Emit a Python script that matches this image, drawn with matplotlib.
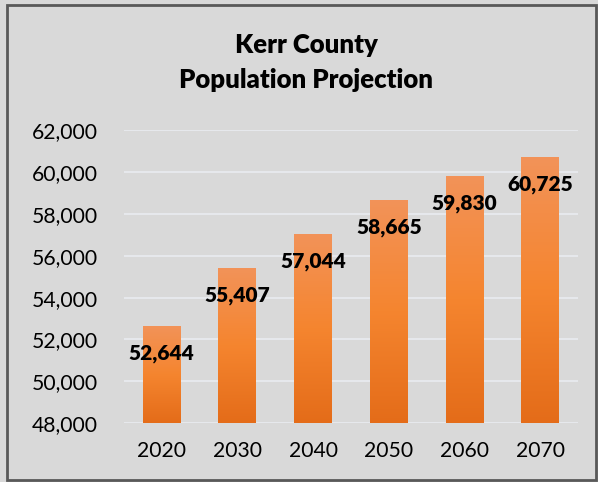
import numpy as np
import matplotlib.pyplot as plt
from matplotlib.colors import LinearSegmentedColormap
from matplotlib.patches import Rectangle

years = ["2020", "2030", "2040", "2050", "2060", "2070"]
population = [52644, 55407, 57044, 58665, 59830, 60725]
labels = ["52,644", "55,407", "57,044", "58,665", "59,830", "60,725"]
yticks = [48000, 50000, 52000, 54000, 56000, 58000, 60000, 62000]

plt.rcParams['font.family'] = ['Lato', 'DejaVu Sans']

fig = plt.figure(figsize=(5.98, 4.82), dpi=100, facecolor='#d9d9d9')
fig.patches.append(Rectangle((0.012, 0.004), 0.985, 0.985, transform=fig.transFigure,
                             fill=False, edgecolor='#595959', linewidth=2))
ax = fig.add_axes([0.207, 0.122, 0.760, 0.608])
ax.set_facecolor('#d9d9d9')

ax.set_ylim(48000, 62000)
ax.set_yticks(yticks)
ax.set_yticklabels([f"{v:,}" for v in yticks])
ax.grid(axis='y', color='#e6e8ec', linewidth=1.5)
ax.set_axisbelow(True)
for s in ax.spines.values():
    s.set_visible(False)
ax.tick_params(axis='both', length=0, labelsize=15.2)
ax.tick_params(axis='y', pad=19)
ax.tick_params(axis='x', pad=13)

cmap = LinearSegmentedColormap.from_list('og', ['#e46c19', '#f5852f', '#f29359'])
bars = ax.bar(years, population, width=0.5, color='none', zorder=2)
grad = np.linspace(0, 1, 256).reshape(-1, 1)
for b in bars:
    x0, y0 = b.get_x(), 48000
    im = ax.imshow(grad, cmap=cmap, origin='lower', aspect='auto',
                   extent=[x0, x0 + b.get_width(), y0, b.get_height()], zorder=2)
    im.set_clip_path(b)
ax.set_xlim(-0.5, len(years) - 0.5)
ax.set_ylim(48000, 62000)

for i, (v, t) in enumerate(zip(population, labels)):
    ax.annotate(t, (i, v), xytext=(0, -20), textcoords='offset points',
                ha='center', va='center', fontsize=15, fontweight='heavy', zorder=3)

fig.text(0.512, 0.906, "Kerr County", ha='center', va='center', fontsize=18.5, fontweight='heavy')
fig.text(0.512, 0.834, "Population Projection", ha='center', va='center', fontsize=18.5, fontweight='heavy')

fig.savefig('out.png', dpi=100, facecolor=fig.get_facecolor())
